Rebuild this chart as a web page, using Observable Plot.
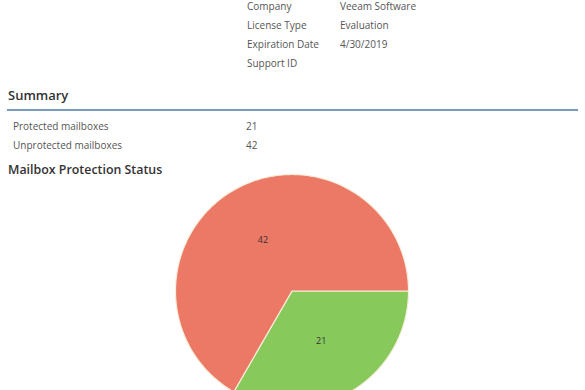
<!DOCTYPE html>
<html>
<head>
<meta charset="utf-8">
<script src="https://cdn.jsdelivr.net/npm/d3@7"></script>
<script src="https://cdn.jsdelivr.net/npm/@observablehq/plot@0.6"></script>
<style>
  html, body { margin: 0; padding: 0; width: 585px; height: 390px; overflow: hidden; background: #fff; }
  body { position: relative; font-family: "Open Sans", sans-serif; }
  .t { position: absolute; line-height: 1; white-space: nowrap; }
  .info { font-size: 10px; color: #555; }
  .h { font-weight: 600; color: #333; }
  #rule { position: absolute; left: 7px; top: 109px; width: 571px; height: 2px; background: #7d9bb6; box-shadow: 0 0 1px #bcd3e6; }
  #chart { position: absolute; left: -1px; top: 174px; }
</style>
</head>
<body>
<div id="page"></div>
<div id="rule"></div>
<div id="chart"></div>
<script>
// License info
const infoLabels = ["Company", "License Type", "Expiration Date", "Support ID"];
const infoValues = ["Veeam Software", "Evaluation", "4/30/2019", ""];
// Summary
const summaryLabels = ["Protected mailboxes", "Unprotected mailboxes"];
const summaryValues = [21, 42];
// Pie
const categories = ["Protected", "Unprotected"];
const values = [21, 42];
const colors = ["#87c95b", "#ec7866"];

const page = document.getElementById("page");
function addText(txt, cls, left, top, size) {
  const d = document.createElement("div");
  d.className = "t " + cls;
  d.textContent = txt;
  d.style.left = left + "px";
  d.style.top = top + "px";
  if (size) d.style.fontSize = size + "px";
  page.appendChild(d);
}
infoLabels.forEach((l, i) => {
  addText(l, "info", 247, 1 + i * 19);
  addText(infoValues[i], "info", 340, 1 + i * 19);
});
addText("Summary", "h", 8, 89, 13);
summaryLabels.forEach((l, i) => {
  addText(l, "info", 13, 121 + i * 19);
  addText(String(summaryValues[i]), "info", 246, 121 + i * 19);
});
addText("Mailbox Protection Status", "h", 8, 164, 12.4);

// Pie geometry from data
const data = categories.map((c, i) => ({name: c, value: values[i]}));
const arcs = d3.pie().sort(null).value(d => d.value).startAngle(Math.PI / 2).endAngle(Math.PI / 2 + 2 * Math.PI)(data);
const pts = [];
const labels = [];
arcs.forEach(a => {
  const name = a.data.name;
  pts.push({name, x: 0, y: 0});
  const n = Math.max(2, Math.ceil((a.endAngle - a.startAngle) / (Math.PI / 180)));
  for (let k = 0; k <= n; k++) {
    const t = a.startAngle + (a.endAngle - a.startAngle) * k / n;
    pts.push({name, x: Math.sin(t), y: Math.cos(t)});
  }
  pts.push({name, x: 0, y: 0});
  const m = (a.startAngle + a.endAngle) / 2;
  labels.push({name, x: 0.5 * Math.sin(m), y: 0.5 * Math.cos(m), value: a.data.value});
});

const W = 585, H = 233;
const chart = Plot.plot({
  width: W,
  height: H,
  margin: 0,
  x: {domain: [-W / H, W / H], axis: null},
  y: {domain: [-1, 1], axis: null},
  color: {domain: categories, range: colors},
  style: {background: "transparent", overflow: "visible"},
  marks: [
    Plot.line(pts, {x: "x", y: "y", z: "name", fill: "name", stroke: "#f7eedc", strokeWidth: 1.2, curve: "linear-closed"}),
    Plot.text(labels, {x: "x", y: "y", text: "value", fill: "#333", fontSize: 9, fontFamily: "Open Sans"})
  ]
});
document.getElementById("chart").appendChild(chart);
</script>
</body>
</html>
